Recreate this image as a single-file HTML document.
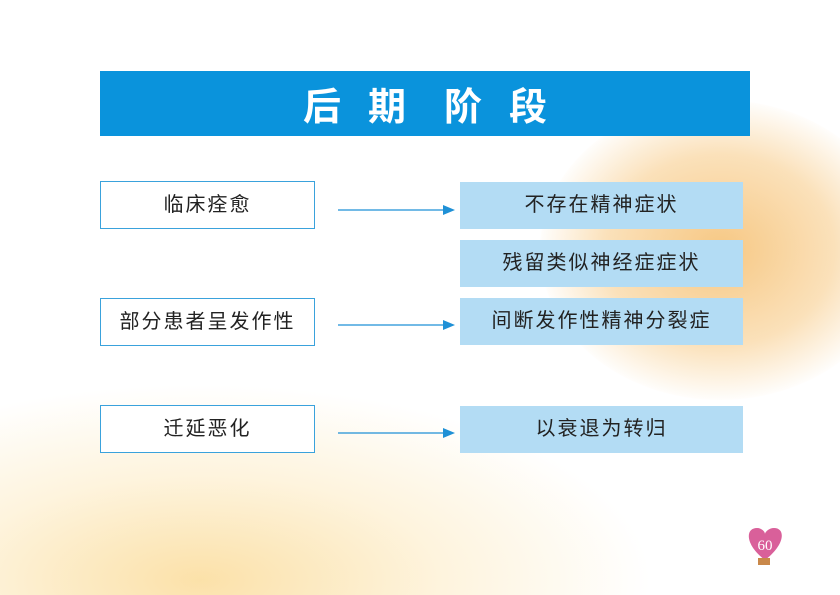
<!DOCTYPE html>
<html><head><meta charset="utf-8"><style>
html,body{margin:0;width:840px;height:595px;overflow:hidden}
#p{position:relative;width:840px;height:595px;overflow:hidden;background:#fff;font-family:"Liberation Sans","Noto Sans CJK SC",sans-serif}
.bg1{position:absolute;left:540px;top:100px;width:360px;height:300px;border-radius:50%;background:radial-gradient(ellipse at center,rgba(245,190,110,.85) 0%,rgba(248,205,140,.6) 45%,rgba(255,255,255,0) 72%)}
.bg2{position:absolute;left:-200px;top:330px;width:1200px;height:265px;background:radial-gradient(ellipse 600px 260px at 400px 250px,rgba(250,215,140,.75) 0%,rgba(252,230,180,.45) 40%,rgba(255,255,255,0) 75%)}
.bar{position:absolute;left:100px;top:71px;width:650px;height:65px;background:#0a93dc}
.t{position:absolute;top:82px;color:#fff;font-size:38px;font-weight:bold;font-family:"Noto Sans CJK SC",sans-serif;line-height:44px}
.l{position:absolute;left:100px;width:213px;height:46px;border:1px solid #3aa2dc;background:#fff;font-size:20px;line-height:46px;text-align:center;letter-spacing:2px;color:#222}
.r{position:absolute;left:460px;width:283px;height:47px;background:#b3dcf4;font-size:20px;line-height:47px;text-align:center;letter-spacing:2px;color:#222}
svg{position:absolute;left:0;top:0}
</style></head><body><div id="p">
<div class="bg1"></div><div class="bg2"></div>
<div class="bar"></div>
<div class="t" style="left:303px">后</div><div class="t" style="left:368px">期</div><div class="t" style="left:444px">阶</div><div class="t" style="left:509px">段</div>
<div class="l" style="top:181px">临床痊愈</div>
<div class="l" style="top:298px">部分患者呈发作性</div>
<div class="l" style="top:405px">迁延恶化</div>
<div class="r" style="top:182px">不存在精神症状</div>
<div class="r" style="top:240px">残留类似神经症症状</div>
<div class="r" style="top:298px">间断发作性精神分裂症</div>
<div class="r" style="top:406px">以衰退为转归</div>
<svg width="840" height="595">
<g stroke="#1f90d6" stroke-width="1.3"><line x1="338" y1="210" x2="448" y2="210"/><line x1="338" y1="325" x2="448" y2="325"/><line x1="338" y1="433" x2="448" y2="433"/></g>
<g fill="#1f90d6"><polygon points="443,205 455,210 443,215"/><polygon points="443,320 455,325 443,330"/><polygon points="443,428 455,433 443,438"/></g>
<path d="M765,560 C745,545 745,528 757,528 C762,528 765,532 765,534 C765,532 769,528 774,528 C786,528 785,545 765,560Z" fill="#d9609a"/>
<rect x="758" y="558" width="12" height="7" fill="#c9884a"/>
<text x="765" y="550" font-size="15" fill="#fff" text-anchor="middle" font-family="Liberation Serif,serif">60</text>
</svg>
</div></body></html>
